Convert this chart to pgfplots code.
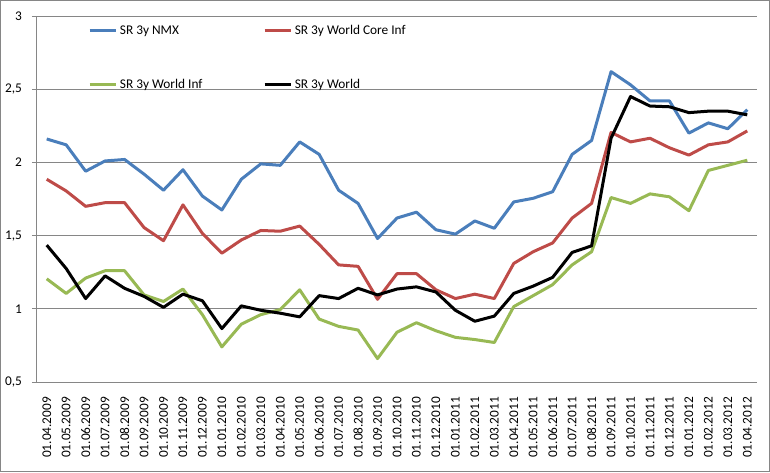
\documentclass[border=0pt]{standalone}
\usepackage{fontspec}
\setmainfont{Carlito}
\usepackage{pgfplots}
\usepackage{pgfplotstable}
\pgfplotsset{compat=1.18}
\definecolor{cblue}{HTML}{4A7EBB}
\definecolor{cred}{HTML}{BE4B48}
\definecolor{cgreen}{HTML}{98B954}
\definecolor{cgrid}{HTML}{868686}
\pgfplotstableread{
i nmx core inf world
0 2.16 1.885 1.205 1.435
1 2.12 1.805 1.105 1.275
2 1.94 1.70 1.21 1.07
3 2.01 1.725 1.26 1.225
4 2.02 1.725 1.26 1.14
5 1.92 1.555 1.095 1.085
6 1.81 1.465 1.05 1.01
7 1.95 1.71 1.135 1.10
8 1.77 1.515 0.96 1.055
9 1.675 1.38 0.74 0.865
10 1.885 1.47 0.895 1.02
11 1.99 1.535 0.96 0.99
12 1.98 1.53 0.995 0.97
13 2.14 1.565 1.13 0.945
14 2.055 1.44 0.93 1.09
15 1.81 1.30 0.88 1.07
16 1.72 1.29 0.855 1.14
17 1.48 1.065 0.66 1.095
18 1.62 1.24 0.84 1.135
19 1.66 1.24 0.905 1.15
20 1.54 1.13 0.85 1.115
21 1.51 1.07 0.805 0.99
22 1.60 1.10 0.79 0.915
23 1.55 1.07 0.77 0.95
24 1.73 1.31 1.015 1.105
25 1.755 1.39 1.09 1.155
26 1.80 1.45 1.165 1.215
27 2.055 1.62 1.30 1.385
28 2.15 1.72 1.39 1.43
29 2.62 2.205 1.76 2.165
30 2.53 2.14 1.72 2.45
31 2.42 2.165 1.785 2.385
32 2.42 2.10 1.765 2.38
33 2.20 2.05 1.67 2.34
34 2.27 2.12 1.945 2.35
35 2.23 2.14 1.98 2.35
36 2.36 2.215 2.015 2.325
}\datatable
\begin{document}
\begin{tikzpicture}
\useasboundingbox (0,0) rectangle (577.5pt,-354pt);
\draw[cgrid, line width=0.75pt] (0.375pt,-0.375pt) rectangle (577.125pt,-353.625pt);
\begin{axis}[
  at={(27.75pt,-12pt)}, anchor=north west,
  scale only axis, width=540pt, height=274.5pt,
  xmin=-0.5, xmax=36.5, ymin=0.5, ymax=3,
  axis x line*=bottom, axis y line*=left,
  axis line style={cgrid, line width=0.75pt},
  ytick={0.5,1,1.5,2,2.5,3},
  ymajorgrids, grid style={cgrid, line width=0.75pt},
  xtick={0,...,36},
  xticklabels={01.04.2009,01.05.2009,01.06.2009,01.07.2009,01.08.2009,01.09.2009,01.10.2009,01.11.2009,01.12.2009,01.01.2010,01.02.2010,01.03.2010,01.04.2010,01.05.2010,01.06.2010,01.07.2010,01.08.2010,01.09.2010,01.10.2010,01.11.2010,01.12.2010,01.01.2011,01.02.2011,01.03.2011,01.04.2011,01.05.2011,01.06.2011,01.07.2011,01.08.2011,01.09.2011,01.10.2011,01.11.2011,01.12.2011,01.01.2012,01.02.2012,01.03.2012,01.04.2012},
  x tick label style={rotate=90, anchor=east, font=\fontsize{10}{12}\selectfont, yshift=0pt, xshift=-4pt},
  y tick label style={font=\fontsize{10}{12}\selectfont},
  xtick style={draw=none},
  extra x ticks={-0.5,0.5,...,36.5}, extra x tick labels={},
  extra x tick style={tick style={draw=cgrid, line width=0.75pt}, major tick length=3.75pt, xmajorgrids=false},
  ytick style={cgrid, line width=0.75pt},
  major tick length=3.75pt, tick align=outside,
  /pgf/number format/use comma,
  /pgf/number format/assume math mode=true,
  yticklabel style={xshift=-4pt},
  legend style={draw=none, fill=none, at={(rel axis cs:0.0708,0.979)}, anchor=north west,
    legend columns=2, row sep=30pt, inner sep=0pt,
    font=\fontsize{10}{12}\selectfont,
    nodes={inner xsep=1.5pt, inner ysep=1pt},
    /tikz/every even column/.append style={column sep=44pt}},
  legend cell align=left,
  legend image code/.code={\draw[#1] (0pt,0pt) -- (20pt,0pt);},
  every axis plot/.append style={line width=2.25pt, line join=round},
]
\addplot[cblue] table[x=i, y=nmx] {\datatable};
\addlegendentry{SR 3y NMX}
\addplot[cred] table[x=i, y=core] {\datatable};
\addlegendentry{SR 3y World Core Inf}
\addplot[cgreen] table[x=i, y=inf] {\datatable};
\addlegendentry{SR 3y World Inf}
\addplot[black] table[x=i, y=world] {\datatable};
\addlegendentry{SR 3y World}
\end{axis}
\end{tikzpicture}
\end{document}
